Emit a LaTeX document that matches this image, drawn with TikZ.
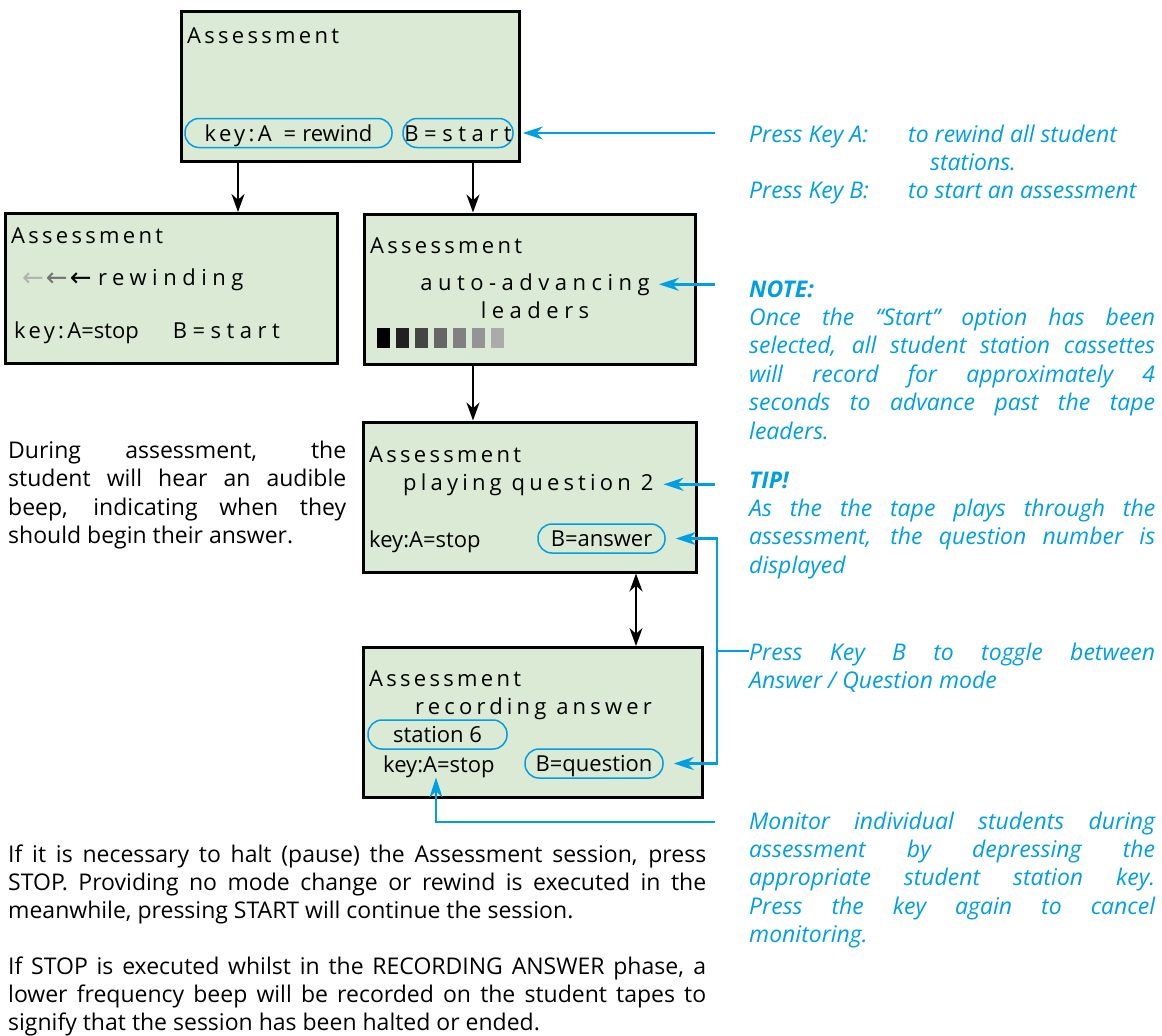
\documentclass[tikz,border=0pt]{standalone}
\usepackage{fontspec}
\setmainfont{Open Sans}
\newfontfamily\lcdspaced[LetterSpace=15]{Open Sans}
\newfontfamily\lcdmid[LetterSpace=19]{Open Sans}
\newfontfamily\lcdwide[LetterSpace=25]{Open Sans}
\newfontfamily\arrowfont{DejaVu Sans}
\usetikzlibrary{arrows.meta}
\definecolor{lcdgreen}{RGB}{218,234,212}
\definecolor{hintblue}{RGB}{0,158,226}

\begin{document}
\begin{tikzpicture}[x=1pt, y=-1pt,
		screen/.style={draw, line width=3pt, fill=lcdgreen, minimum width=#1, minimum height=150pt, inner sep=0pt},
		lcd/.style={anchor=base west, inner sep=0pt, font=\fontsize{22}{26}\selectfont},
		pill/.style={draw=hintblue, line width=1.5pt, rounded corners=14pt, minimum height=29pt, inner sep=0pt, text height=16pt, text depth=0pt, font=\fontsize{22}{26}\selectfont},
		hint/.style={anchor=base west, inner sep=0pt, text=hintblue, font=\fontsize{23}{28.4}\selectfont\itshape},
		hintblock/.style={hint, anchor=north west, text width=406pt, align=justify},
		body/.style={anchor=north west, inner sep=0pt, align=justify, font=\fontsize{23}{28}\selectfont},
		flow/.style={line width=2.6pt, -{Stealth[length=18pt, width=13pt]}},
		twoway/.style={line width=2.6pt, {Stealth[length=18pt, width=13pt]}-{Stealth[length=18pt, width=13pt]}},
		pointer/.style={draw=hintblue, line width=2.6pt, -{Stealth[length=20pt, width=13pt]}}]
		\useasboundingbox (0,0) rectangle (1162,1036);

		% screens
		\node[screen=338pt] (menu) at (350,86.5) {};
		\node[screen=332pt] (rewind) at (171,288.5) {};
		\node[screen=331pt] (leader) at (529.5,289) {};
		\node[screen=333pt] (playing) at (529.5,497) {};
		\node[screen=339pt] (recording) at (532.5,722.5) {};

		\node[lcd] (menuT) at (187,43) {\lcdspaced Assessment};
		\node[pill, minimum width=207pt] (keyrew) at (288.5,133) {{\lcdspaced key:A}\hspace{12pt}=\hspace{6pt}rewind};
		\node[pill, minimum width=110pt] (bstart) at (458,133) {\lcdwide B=start};

		\node[lcd] (rewT) at (11,243) {\lcdspaced Assessment};
		\node[lcd, font=\fontsize{26}{26}\selectfont] (rewarrows) at (22,286) {\arrowfont\textcolor{black!30}{←}\hspace{2pt}\textcolor{black!55}{←}\hspace{2pt}←};
		\node[lcd] (rewing) at (98,285) {\lcdwide rewinding};
		\node[lcd] (rewkey) at (14,338) {{\lcdspaced key:A}=stop\hspace{34pt}{\lcdwide B=start}};

		\node[lcd] (advT) at (370,253) {\lcdspaced Assessment};
		\node[lcd, anchor=base] (autoadv) at (535,290) {\lcdwide auto-advancing};
		\node[lcd, anchor=base] (leaders) at (535,318) {\lcdwide leaders};
		\foreach \g [count=\i from 0] in {100,87,73,60,50,42,33}
			\fill[black!\g] (377+19*\i,328) rectangle ++(13,20);

		\node[lcd] (playT) at (369,462) {\lcdspaced Assessment};
		\node[lcd] (playq) at (403,490) {\lcdmid playing question 2};
		\node[lcd] (playkey) at (369,547) {key:A=stop};
		\node[pill, minimum width=127pt] (banswer) at (601.5,538.5) {B=answer};

		\node[lcd] (recT) at (369,686) {\lcdspaced Assessment};
		\node[lcd] (recans) at (415,714) {\lcdmid recording answer};
		\node[pill, minimum width=139pt] (station) at (437.5,734.5) {station 6\hspace{18pt}};
		\node[lcd] (reckey) at (383,772) {key:A=stop};
		\node[pill, minimum width=138pt] (bquestion) at (594,763.5) {B=question};

		\draw[flow] ([xshift=-112pt]menu.south) -- ([xshift=-112pt]menu.south |- rewind.north);
		\draw[flow] ([xshift=123pt]menu.south) -- ([xshift=123pt]menu.south |- leader.north);
		\draw[flow] ([xshift=-56.5pt]leader.south) -- ([xshift=-56.5pt]leader.south |- playing.north);
		\draw[twoway] ([xshift=106.5pt]playing.south) -- ([xshift=106.5pt]playing.south |- recording.north);

		% notes on the right
		\node[hint] (pkA) at (749,142) {Press Key A:};
		\node[hint] (pkAtxt) at (908,142) {to rewind all student};
		\node[hint] (pkAtxt2) at (930,170) {stations.};
		\node[hint] (pkB) at (749,198) {Press Key B:};
		\node[hint] (pkBtxt) at (908,198) {to start an assessment};

		\node[hintblock] (note) at (749,277) {\strut\textbf{NOTE:}\\ Once the “Start” option has been\linebreak selected, all student station cassettes\linebreak will record for approximately 4\linebreak seconds to advance past the tape\linebreak leaders.};
		\node[hintblock] (tip) at (749,468) {\strut\textbf{TIP!}\\ As the the tape plays through the\linebreak assessment, the question number is\linebreak displayed};
		\node[hintblock] (toggle) at (749,640) {\strut Press Key B to toggle between\linebreak Answer / Question mode};
		\node[hintblock] (monitor) at (749,809) {\strut Monitor individual students during\linebreak assessment by depressing the\linebreak appropriate student station key.\linebreak Press the key again to cancel\linebreak monitoring.};

		\draw[pointer] ([xshift=-34pt]pkA.west |- bstart.east) -- ([xshift=9pt]bstart.east);
		\draw[pointer] ([xshift=-34pt]note.north west |- autoadv.east) -- ([xshift=9pt]autoadv.east);
		\draw[pointer] ([xshift=-34pt]tip.north west |- playq.east) -- ([xshift=10pt]playq.east);
		\coordinate (bus) at (717,651);
		\draw[pointer] (bus) |- ([xshift=10pt]banswer.east);
		\draw[pointer] (bus) |- ([xshift=10pt]bquestion.east);
		\draw[hintblue, line width=2.6pt] (bus) -- (bus -| toggle.west);
		\coordinate (monbend) at (436,822);
		\draw[pointer] ([xshift=-34pt]monitor.north west |- monbend) -| ([xshift=53pt]reckey.south west);

		% black text
		\node[body, text width=338pt, font=\fontsize{23}{28.5}\selectfont] (during) at (8,438) {\strut During assessment, the\linebreak student will hear an audible\linebreak beep, indicating when they\linebreak should begin their answer.};
		\node[body, text width=698pt] (halt) at (8,842.4) {\strut If it is necessary to halt (pause) the Assessment session, press\linebreak STOP. Providing no mode change or rewind is executed in the\linebreak meanwhile, pressing START will continue the session.};
		\node[body, text width=698pt] (stopnote) at (8,954.4) {\strut If STOP is executed whilst in the RECORDING ANSWER phase, a\linebreak lower frequency beep will be recorded on the student tapes to\linebreak signify that the session has been halted or ended.};
	\end{tikzpicture}
\end{document}
